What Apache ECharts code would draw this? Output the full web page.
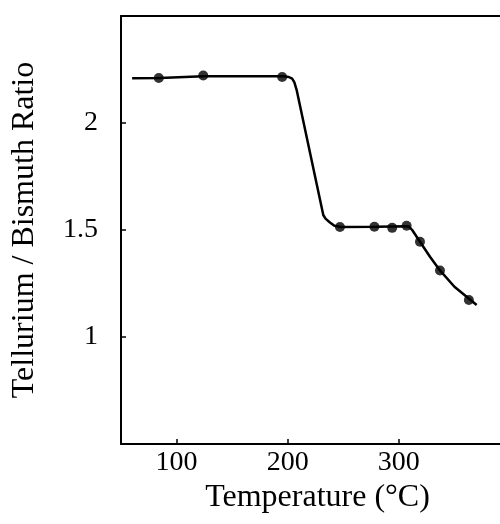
<!DOCTYPE html>
<html>
<head>
<meta charset="utf-8">
<script src="https://cdn.jsdelivr.net/npm/echarts@6/dist/echarts.min.js"></script>
<style>html,body{margin:0;padding:0;background:#fff;}#c{width:500px;height:524px;}</style>
</head>
<body>
<div id="c"></div>
<script>
// Measured points
var temperatures = [84, 124, 195, 247, 278, 294, 307, 319, 337, 363];
var ratios = [2.21, 2.222, 2.215, 1.514, 1.515, 1.51, 1.52, 1.445, 1.311, 1.173];
// Fitted curve
var curveT = [60, 85, 124, 196, 201, 204, 206, 208, 232, 234, 238, 242, 248, 280, 306, 309, 312, 319, 328, 337, 350, 364, 370];
var curveR = [2.209, 2.21, 2.218, 2.218, 2.215, 2.207, 2.19, 2.155, 1.57, 1.553, 1.535, 1.52, 1.514, 1.515, 1.518, 1.516, 1.5, 1.445, 1.375, 1.311, 1.235, 1.175, 1.15];
var xTicks = [100, 200, 300];
var yTicks = [1, 1.5, 2];

var font = 'Liberation Serif';
var chart = echarts.init(document.getElementById('c'));
chart.setOption({
  animation: false,
  backgroundColor: '#fff',
  grid: {left: 121, right: 0, top: 16, bottom: 80, containLabel: false, outerBoundsMode: 'none'},
  xAxis: [{
    type: 'value', min: 50, max: 391,
    name: 'Temperature (°C)', nameLocation: 'middle', nameGap: 31,
    nameTextStyle: {fontFamily: font, fontSize: 32, color: '#000', padding: [0, 0, 0, 14]},
    axisLine: {lineStyle: {color: '#000', width: 2}},
    axisTick: {inside: true, length: 5, customValues: xTicks, lineStyle: {color: '#000', width: 1.5}},
    axisLabel: {customValues: xTicks, fontFamily: font, fontSize: 28, color: '#000', margin: 5},
    splitLine: {show: false}
  }, {
    type: 'value', min: 50, max: 391, position: 'top',
    axisLine: {show: true, lineStyle: {color: '#000', width: 2}},
    axisTick: {show: false}, axisLabel: {show: false}, splitLine: {show: false}
  }],
  yAxis: {
    type: 'value', min: 0.5, max: 2.5,
    name: 'Tellurium / Bismuth Ratio', nameLocation: 'middle', nameGap: 80, nameRotate: 90,
    nameTextStyle: {fontFamily: font, fontSize: 32, color: '#000'},
    axisLine: {show: true, lineStyle: {color: '#000', width: 2}},
    axisTick: {inside: true, length: 5, customValues: yTicks, lineStyle: {color: '#000', width: 1.5}},
    axisLabel: {customValues: yTicks, fontFamily: font, fontSize: 28, color: '#000', margin: 23},
    splitLine: {show: false}
  },
  series: [{
    type: 'line',
    data: curveT.map(function (t, i) { return [t, curveR[i]]; }),
    showSymbol: false, symbol: 'none',
    lineStyle: {color: '#000', width: 2.5},
    z: 2
  }, {
    type: 'scatter',
    data: temperatures.map(function (t, i) { return [t, ratios[i]]; }),
    symbol: 'circle', symbolSize: 10,
    itemStyle: {color: '#000'},
    z: 3
  }]
});
</script>
</body>
</html>
